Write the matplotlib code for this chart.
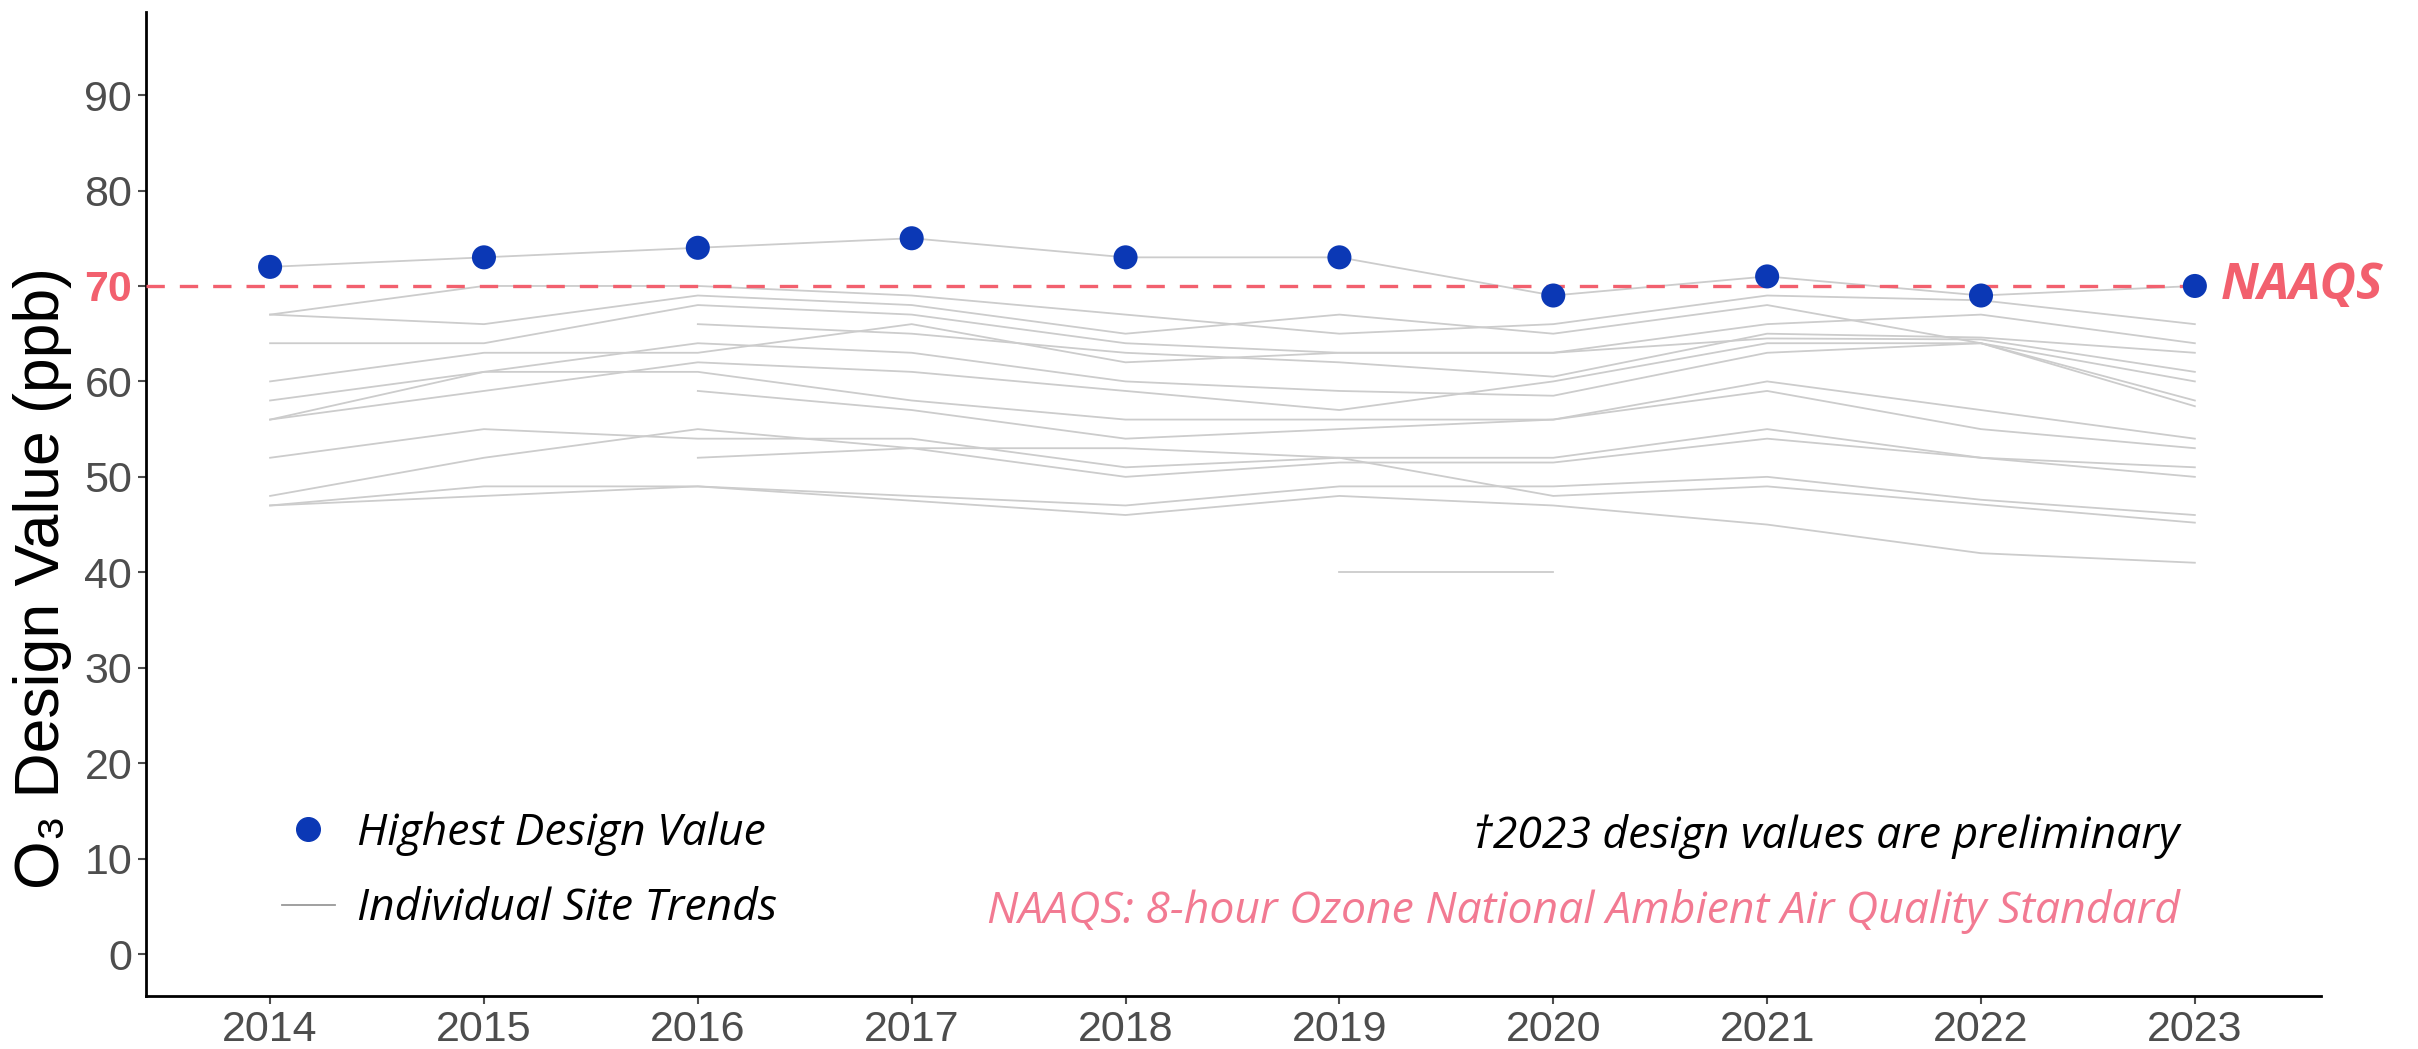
import matplotlib
matplotlib.use("Agg")
import matplotlib.pyplot as plt
from matplotlib.lines import Line2D
import numpy as np

nan = np.nan

# years and highest design value per year
years = [2014, 2015, 2016, 2017, 2018, 2019, 2020, 2021, 2022, 2023]
highest_dv = [72, 73, 74, 75, 73, 73, 69, 71, 69, 70]

# individual site trends (ppb)
site_01 = [67, 70, 70, 69, 67, 65, 66, 69, 68.5, 66]
site_02 = [67, 66, 69, 68, 65, 67, 65, 68, 64, 58]
site_03 = [64, 64, 68, 67, 64, 63, 63, 66, 67, 64]
site_04 = [nan, nan, 66, 65, 63, 62, 60.5, 65, 64.6, 63]
site_05 = [60, 63, 63, 66, 62, 63, 63, 64.5, 64.4, 61]
site_06 = [58, 61, 64, 63, 60, 59, 58.5, 63, 64, 60]
site_07 = [56, 59, 62, 61, 59, 57, 60, 64, 64, 57.4]
site_08 = [56, 61, 61, 58, 56, 56, 56, 60, 57, 54]
site_09 = [nan, nan, 59, 57, 54, 55, 56, 59, 55, 53]
site_10 = [52, 55, 54, 54, 51, 52, 52, 55, 52, 51]
site_11 = [48, 52, 55, 53, 50, 51.5, 51.5, 54, 52, 50]
site_12 = [nan, nan, 52, 53, 53, 52, 48, 49, 47.1, 45.2]
site_13 = [47, 49, 49, 48, 47, 49, 49, 50, 47.6, 46]
site_14 = [47, 48, 49, 47.5, 46, 48, 47, 45, 42, 41]
site_15 = [nan, nan, nan, nan, nan, 40, 40, nan, nan, nan]

sites = [site_01, site_02, site_03, site_04, site_05, site_06, site_07, site_08,
         site_09, site_10, site_11, site_12, site_13, site_14, site_15]

naaqs = 70
yticks = [0, 10, 20, 30, 40, 50, 60, 70, 80, 90]

grey = "#cccccc"
blue = "#0b38b5"
red = "#f2606e"
pink = "#f27a92"

fig = plt.figure(figsize=(24.18, 10.49), dpi=100)
ax = fig.add_axes([0.0604, 0.0505, 0.8995, 0.938])

for s in sites:
    ax.plot(years, s, color=grey, lw=1.3, zorder=2)
ax.plot(years, highest_dv, color=grey, lw=1.3, zorder=2)
ax.scatter(years, highest_dv, s=300, color=blue, zorder=5, edgecolors="none")

# NAAQS reference line
ax.plot([2013.42, 2023.05], [naaqs, naaqs], color=red, lw=2.4,
        dashes=(5.5, 4.5), zorder=4)
ax.text(2023.12, naaqs, "NAAQS", color=red, fontsize=36, fontweight="bold",
        style="italic", family="Open Sans", va="center", ha="left", clip_on=False)

ax.set_xlim(2013.42, 2023.59)
ax.set_ylim(-4.4, 98.7)
ax.set_xticks(years)
ax.set_xticklabels([str(y) for y in years])
ax.set_yticks(yticks)
ax.set_yticklabels([str(v) for v in yticks])

ax.tick_params(axis="both", labelsize=31, colors="#4d4d4d", length=6, width=1.5,
               labelcolor="#4d4d4d", pad=4)
for lab in ax.get_yticklabels() + ax.get_xticklabels():
    lab.set_family("Liberation Sans")
for lab in ax.get_yticklabels():
    if lab.get_text() == str(naaqs):
        lab.set_color(red)
        lab.set_fontweight("bold")

ax.set_ylabel("O\u2083 Design Value (ppb)", fontsize=45, family="Liberation Sans", color="black")
ax.yaxis.set_label_coords(-0.034, 0.425)

for side in ["top", "right"]:
    ax.spines[side].set_visible(False)
for side in ["left", "bottom"]:
    ax.spines[side].set_linewidth(2)
    ax.spines[side].set_color("black")

handles = [
    Line2D([], [], marker="o", color=blue, markersize=17, lw=0),
    Line2D([], [], color="#999999", lw=1.3),
]
ax.legend(handles, ["Highest Design Value", "Individual Site Trends"],
          loc="lower left", bbox_to_anchor=(0.044, 0.025), frameon=False,
          prop={"family": "Open Sans", "style": "italic", "size": 32},
          handlelength=1.2, handletextpad=0.5, labelspacing=0.7)

ax.text(0.935, 0.162, "\u20202023 design values are preliminary", transform=ax.transAxes,
        ha="right", va="center", fontsize=32, family="Open Sans", style="italic", color="black")
ax.text(0.935, 0.086, "NAAQS: 8-hour Ozone National Ambient Air Quality Standard",
        transform=ax.transAxes, ha="right", va="center", fontsize=32, family="Open Sans",
        style="italic", color=pink)

fig.savefig("out.png", dpi=100)
